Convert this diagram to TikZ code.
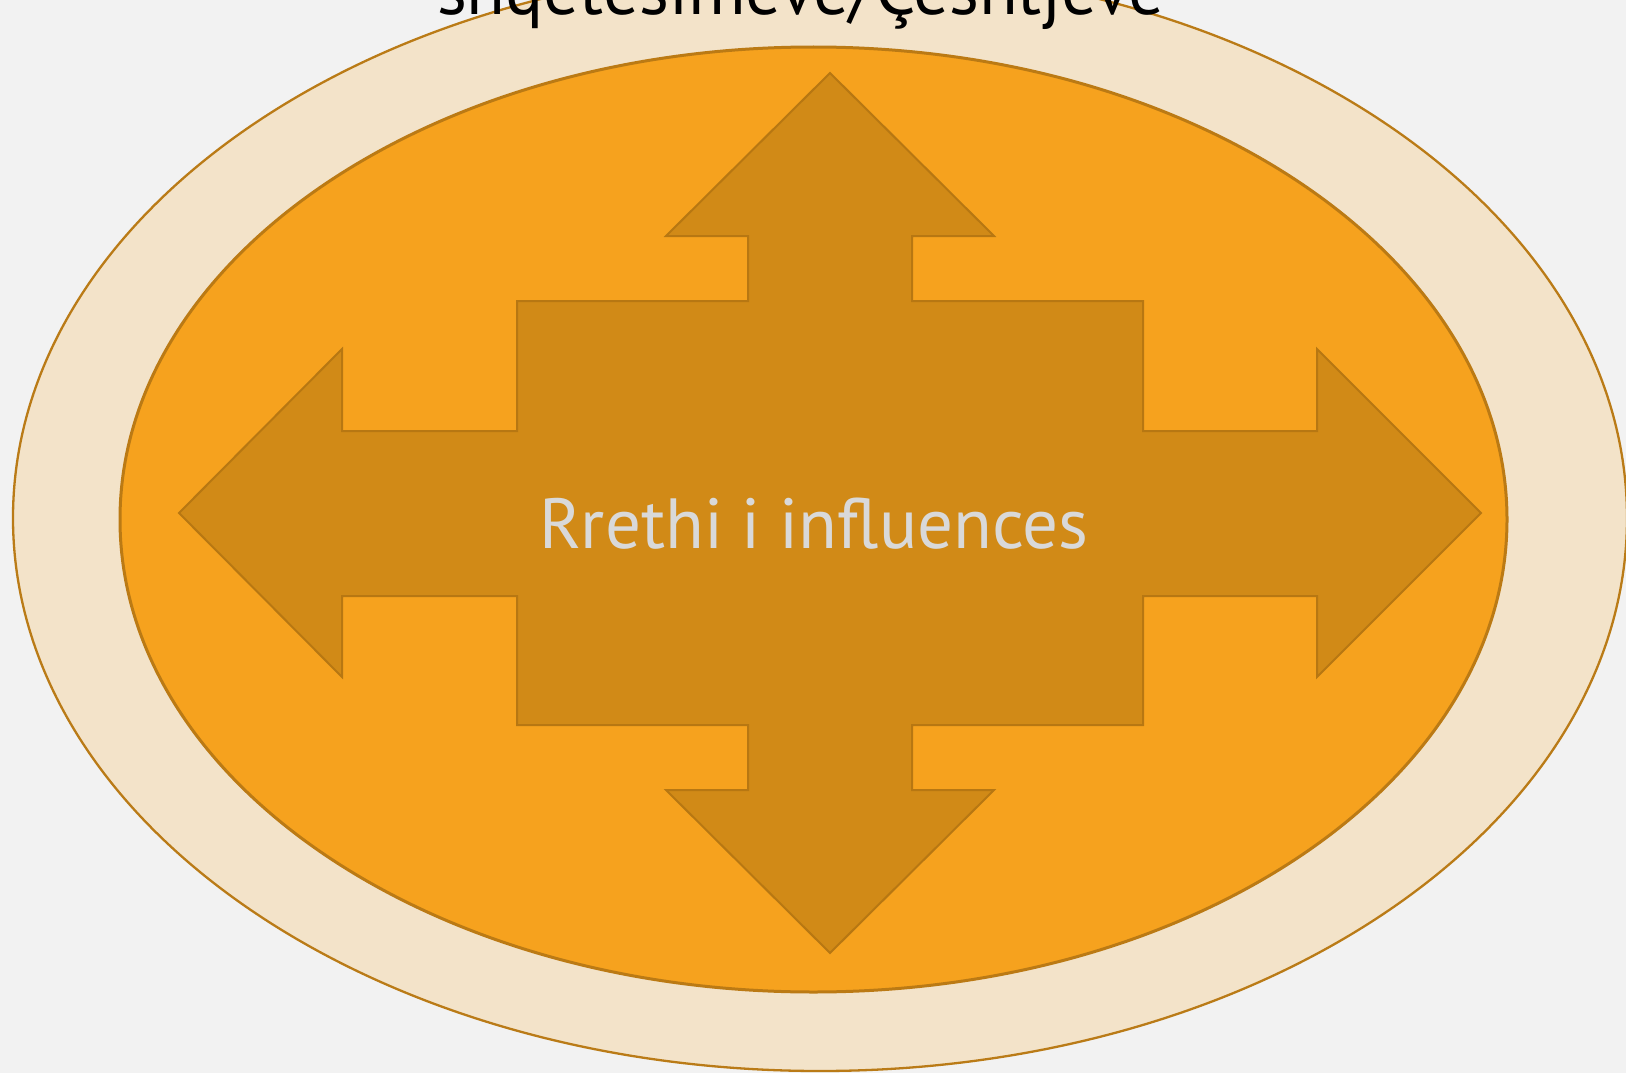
\documentclass[tikz,border=0pt]{standalone}
\usepackage{fontspec}
\setmainfont{PT Sans}
\usetikzlibrary{shapes.geometric}
\definecolor{bgc}{HTML}{F2F2F2}
\definecolor{outerfill}{HTML}{F3E3C9}
\definecolor{outerline}{HTML}{BA7B17}
\definecolor{innerfill}{HTML}{F6A21E}
\definecolor{innerline}{HTML}{BB7A14}
\definecolor{arrowfill}{HTML}{D18A17}
\definecolor{arrowline}{HTML}{B77712}
\definecolor{labeltext}{HTML}{D9D9D9}
\tikzset{
  ring/.style={ellipse, inner sep=0pt, line width=2.3pt},
  crossarrow/.style={fill=arrowfill, draw=arrowline, line width=2pt, line join=miter},
  centerlabel/.style={text=labeltext, font=\fontsize{71}{80}\selectfont, anchor=base, inner sep=0pt},
  titlelabel/.style={text=black, font=\fontsize{71}{80}\selectfont, anchor=base, inner sep=0pt}
}
\begin{document}
\begin{tikzpicture}[x=1pt,y=-1pt]
\useasboundingbox (0,0) rectangle (1626,1073);
\fill[bgc] (0,0) rectangle (1626,1073);
\node[ring, fill=outerfill, draw=outerline, minimum width=1614pt, minimum height=1106pt] (outer) at (820,518) {};
\node[ring, fill=innerfill, draw=innerline, line width=3pt, minimum width=1387pt, minimum height=945pt] (inner) at (813.5,519.5) {};
\draw[crossarrow] (830,73) -- (994,236) -- (912,236) -- (912,301) -- (1143,301) -- (1143,431) -- (1317,431) -- (1317,349) -- (1481,513) -- (1317,677) -- (1317,596) -- (1143,596) -- (1143,725) -- (912,725) -- (912,790) -- (994,790) -- (830,953) -- (666,790) -- (748,790) -- (748,725) -- (517,725) -- (517,596) -- (342,596) -- (342,677) -- (179,513) -- (342,349) -- (342,431) -- (517,431) -- (517,301) -- (748,301) -- (748,236) -- (666,236) -- cycle;
\node[centerlabel] (center) at (814,548) {Rrethi i influences};
\node[titlelabel] (title) at (801,14.5) {shqetësimeve/Çështjeve};
\end{tikzpicture}
\end{document}
